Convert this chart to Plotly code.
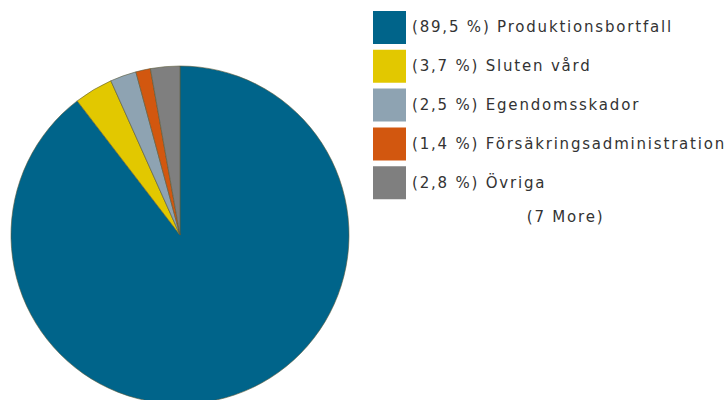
import plotly.graph_objects as go

labels = ["Produktionsbortfall", "Sluten vård", "Egendomsskador", "Försäkringsadministration", "Övriga"]
values = [89.5, 3.7, 2.5, 1.4, 2.8]
colors = ["#00648a", "#e2c800", "#8ea3b2", "#d2570f", "#7f7f7f"]
more_count = 7

W, H = 728, 405
fig = go.Figure()
fig.add_trace(go.Pie(
    labels=labels, values=values, sort=False, direction="clockwise", rotation=0,
    marker=dict(colors=colors, line=dict(color="#5a5a3a", width=0.6)),
    textinfo="none", hoverinfo="label+percent", showlegend=False,
    domain=dict(x=[11 / W, 349 / W], y=[1 - 404 / H, 1 - 66 / H]),
))

font = dict(family="DejaVu Sans, Verdana, sans-serif", size=15, color="#333333")
row0, step, box = 11, 38.8, 33
for i, (lab, v, c) in enumerate(zip(labels, values, colors)):
    top = row0 + i * step
    fig.add_shape(type="rect", xref="paper", yref="paper",
                  x0=373 / W, x1=406 / W, y0=1 - top / H, y1=1 - (top + box) / H,
                  fillcolor=c, line=dict(width=0))
    txt = f"({v:.1f} %) {lab}".replace(".", ",")
    fig.add_annotation(xref="paper", yref="paper", x=410 / W, y=1 - (top + box / 2) / H,
                       text=txt, showarrow=False, xanchor="left", yanchor="middle", font=font)
fig.add_annotation(xref="paper", yref="paper", x=565 / W, y=1 - 217 / H,
                   text=f"({more_count} More)", showarrow=False, xanchor="center", yanchor="middle", font=font)

fig.update_layout(width=W, height=H, margin=dict(l=0, r=0, t=0, b=0),
                  paper_bgcolor="white", plot_bgcolor="white")

post = """
document.body.style.margin='0';
document.body.style.overflow='hidden';
document.querySelectorAll('.annotation-text').forEach(function(e){
  var w0 = e.getComputedTextLength();
  e.style.letterSpacing='1.8px';
  var w1 = e.getComputedTextLength();
  var t = e.textContent || '';
  if (t.indexOf('%') >= 0) {
    var prev = e.getAttribute('transform') || '';
    e.setAttribute('transform', prev + ' translate(' + ((w1 - w0) / 2) + ',0)');
  }
});
"""
fig.write_html("out.html", post_script=post, config={"displayModeBar": False})
